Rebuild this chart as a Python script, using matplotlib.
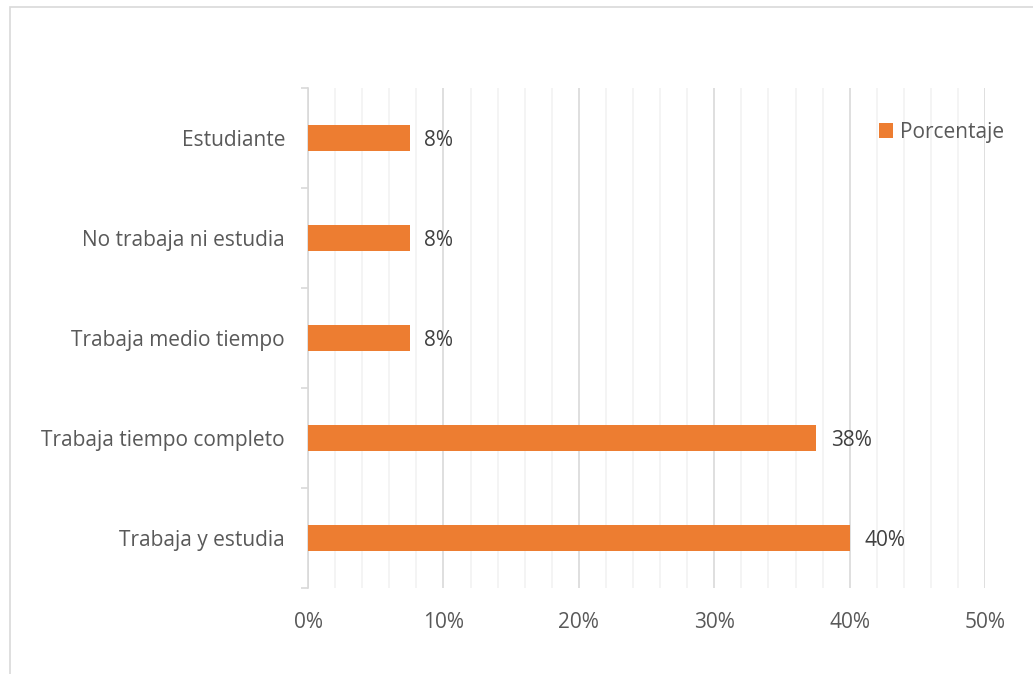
import matplotlib.pyplot as plt
from matplotlib.patches import Rectangle
from matplotlib.ticker import MultipleLocator, FuncFormatter

categories = ["Trabaja y estudia", "Trabaja tiempo completo", "Trabaja medio tiempo",
              "No trabaja ni estudia", "Estudiante"]
values = [40.0, 37.5, 7.5, 7.5, 7.5]
labels = ["40%", "38%", "8%", "8%", "8%"]

plt.rcParams['font.family'] = ['Open Sans', 'DejaVu Sans']
FS = 15

fig = plt.figure(figsize=(10.33, 6.74), dpi=100)
ax = fig.add_axes([0.2982, 0.1276, 0.6554, 0.7418])

# outer chart frame
fig.patches.append(Rectangle((10 / 1033, -0.05), 1.1, 1 - 7 / 674 + 0.05,
                             transform=fig.transFigure, fill=False,
                             edgecolor="#d9d9d9", linewidth=1.2))

y = range(len(categories))
ax.barh(y, values, height=0.26, color="#ed7d31", label="Porcentaje", zorder=3)
for i, (v, t) in enumerate(zip(values, labels)):
    ax.text(v + 1.1, i - 0.02, t, va="center", ha="left", fontsize=FS, color="#404040")

ax.set_xlim(0, 50)
ax.set_ylim(-0.5, len(categories) - 0.5)
ax.xaxis.set_major_locator(MultipleLocator(10))
ax.xaxis.set_minor_locator(MultipleLocator(2))
ax.xaxis.set_major_formatter(FuncFormatter(lambda x, p: f"{x:.0f}%"))
ax.grid(axis="x", which="major", color="#d9d9d9", linewidth=1.2, zorder=0)
ax.grid(axis="x", which="minor", color="#f2f2f2", linewidth=1.2, zorder=0)

ax.set_yticks(list(y))
ax.set_yticklabels(categories)
ax.set_yticks([i - 0.5 for i in range(len(categories) + 1)], minor=True)
ax.tick_params(axis="y", which="major", length=0, pad=16.5, labelsize=FS, labelcolor="#595959")
ax.tick_params(axis="y", which="minor", length=5, color="#d9d9d9", width=1.2)
ax.tick_params(axis="x", which="both", length=0, pad=17, labelsize=FS, labelcolor="#595959")

for s in ["top", "right", "bottom"]:
    ax.spines[s].set_visible(False)
ax.spines["left"].set_color("#d9d9d9")
ax.spines["left"].set_linewidth(1.2)

ax.legend(loc="center left", bbox_to_anchor=(0.843, 0.912), frameon=False,
          fontsize=FS, labelcolor="#595959", handlelength=0.7, handleheight=0.7,
          handletextpad=0.3, borderaxespad=0, borderpad=0)

fig.savefig("out.png", dpi=100)
